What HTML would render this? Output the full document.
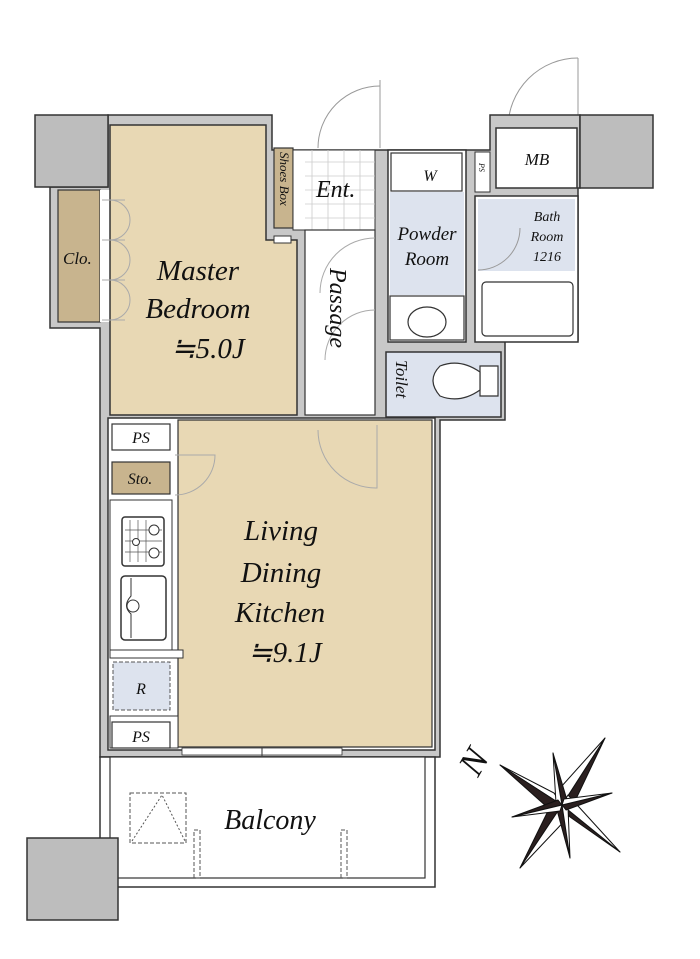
<!DOCTYPE html>
<html><head><meta charset="utf-8"><style>
html,body{margin:0;padding:0;background:#fff;}
svg{display:block;}
text{font-family:"Liberation Serif",serif;font-style:italic;fill:#111;}
</style></head><body>
<svg width="700" height="959" viewBox="0 0 700 959" xmlns="http://www.w3.org/2000/svg">
<g fill="none" stroke="#999" stroke-width="1">
<path d="M318 148 A62 62 0 0 1 380 86"/><line x1="380" y1="80" x2="380" y2="148"/>
<path d="M508 128 A70 70 0 0 1 578 58"/><line x1="578" y1="58" x2="578" y2="128"/>
</g>
<path d="M108 115 L272 115 L272 150 L490 150 L490 115 L580 115 L580 188 L578 188 L578 340 L505 340 L505 420 L440 420 L440 757 L100 757 L100 328 L50 328 L50 187 L108 187 Z" fill="#c8c8c8" stroke="#333" stroke-width="1.5"/>
<rect x="35" y="115" width="73" height="72" fill="#bdbdbd" stroke="#333" stroke-width="1.5"/>
<rect x="580" y="115" width="73" height="73" fill="#bdbdbd" stroke="#333" stroke-width="1.5"/>
<rect x="58" y="190" width="42" height="132" fill="#c8b48e" stroke="#333" stroke-width="1.2"/>
<rect x="100" y="190" width="10" height="132" fill="#fff"/>
<path d="M110 125 L266 125 L266 240 L297 240 L297 415 L110 415 Z" fill="#e8d8b4" stroke="#333" stroke-width="1.5"/>
<g fill="none" stroke="#aaa" stroke-width="1">
<path d="M110 200 A20 20 0 0 1 110 240"/><path d="M110 240 A20 20 0 0 1 110 280"/><path d="M110 280 A20 20 0 0 1 110 320"/>
<line x1="102" y1="200" x2="125" y2="200"/><line x1="102" y1="240" x2="125" y2="240"/><line x1="102" y1="280" x2="125" y2="280"/><line x1="102" y1="320" x2="125" y2="320"/>
</g>
<rect x="274" y="148" width="19" height="80" fill="#c8b48e" stroke="#333" stroke-width="1.2"/>
<rect x="274" y="236" width="17" height="7" fill="#fff" stroke="#333" stroke-width="1"/>
<rect x="293" y="150" width="82" height="80" fill="#fff" stroke="#333" stroke-width="1"/>
<g stroke="#ccc" stroke-width="0.8">
<line x1="305" y1="162" x2="375" y2="162"/><line x1="305" y1="176" x2="375" y2="176"/><line x1="305" y1="190" x2="375" y2="190"/><line x1="305" y1="204" x2="375" y2="204"/><line x1="305" y1="218" x2="375" y2="218"/>
<line x1="312" y1="150" x2="312" y2="230"/><line x1="328" y1="150" x2="328" y2="230"/><line x1="344" y1="150" x2="344" y2="230"/><line x1="360" y1="150" x2="360" y2="230"/>
</g>
<rect x="305" y="230" width="70" height="185" fill="#fff" stroke="#333" stroke-width="1.2"/>
<g fill="none" stroke="#aaa" stroke-width="1">
<path d="M375 238 A55 55 0 0 0 320 293"/><path d="M375 310 A50 50 0 0 0 325 360"/>
</g>
<rect x="388" y="150" width="78" height="192" fill="#fff" stroke="#333" stroke-width="1.5"/>
<rect x="391" y="153" width="71" height="38" fill="#fff" stroke="#333" stroke-width="1.2"/>
<rect x="390" y="192" width="74" height="103" fill="#dde3ee"/>
<rect x="390" y="296" width="74" height="44" fill="#fff" stroke="#333" stroke-width="1.2"/>
<ellipse cx="427" cy="322" rx="19" ry="15" fill="#fff" stroke="#333" stroke-width="1.2"/>
<rect x="475" y="152" width="15" height="40" fill="#fff" stroke="#333" stroke-width="1"/>
<rect x="496" y="128" width="81" height="60" fill="#fff" stroke="#333" stroke-width="1.5"/>
<rect x="475" y="196" width="103" height="146" fill="#fff" stroke="#333" stroke-width="1.5"/>
<rect x="478" y="199" width="97" height="72" fill="#dde3ee"/>
<path d="M478 270 A42 42 0 0 0 520 228" fill="none" stroke="#999" stroke-width="1"/>
<rect x="482" y="282" width="91" height="54" rx="4" fill="#fff" stroke="#333" stroke-width="1.2"/>
<rect x="386" y="352" width="115" height="65" fill="#dde3ee" stroke="#333" stroke-width="1.5"/>
<path d="M480 366 L498 366 L498 396 L480 396 Z" fill="#fff" stroke="#333" stroke-width="1.2"/>
<path d="M480 372 Q460 358 440 366 Q426 380 440 396 Q460 404 480 390 Z" fill="#fff" stroke="#333" stroke-width="1.2"/>
<rect x="108" y="418" width="327" height="332" fill="#fff" stroke="#333" stroke-width="1.5"/>
<path d="M178 420 L432 420 L432 747 L178 747 Z" fill="#e8d8b4" stroke="#333" stroke-width="1.2"/>
<g fill="none" stroke="#aaa" stroke-width="1">
<path d="M377 425 L377 488 A58 58 0 0 1 318 430"/>
<path d="M175 455 L215 455 A40 40 0 0 1 175 495"/>
</g>
<rect x="112" y="424" width="58" height="26" fill="#fff" stroke="#333" stroke-width="1.2"/>
<rect x="112" y="462" width="58" height="32" fill="#c8b48e" stroke="#333" stroke-width="1.2"/>
<rect x="110" y="500" width="62" height="150" fill="#fff" stroke="#333" stroke-width="1"/>
<rect x="122" y="517" width="42" height="49" rx="3" fill="#fff" stroke="#333" stroke-width="1.5"/>
<g stroke="#555" stroke-width="0.7">
<line x1="130" y1="520" x2="130" y2="562"/><line x1="138" y1="520" x2="138" y2="562"/><line x1="146" y1="520" x2="146" y2="562"/>
<line x1="125" y1="530" x2="162" y2="530"/><line x1="125" y1="541" x2="162" y2="541"/><line x1="125" y1="552" x2="162" y2="552"/>
</g>
<circle cx="154" cy="530" r="5" fill="#fff" stroke="#333"/><circle cx="154" cy="553" r="5" fill="#fff" stroke="#333"/><circle cx="136" cy="542" r="3.5" fill="#fff" stroke="#333"/>
<rect x="121" y="576" width="45" height="64" rx="4" fill="#fff" stroke="#333" stroke-width="1.5"/>
<path d="M131 578 L131 596 Q122 606 131 614 L131 638" fill="none" stroke="#333"/>
<circle cx="133" cy="606" r="6" fill="#fff" stroke="#333"/>
<rect x="110" y="650" width="73" height="8" fill="#fff" stroke="#333" stroke-width="1"/>
<rect x="113" y="662" width="57" height="48" fill="#dde3ee" stroke="#555" stroke-width="1" stroke-dasharray="4,2"/>
<rect x="110" y="716" width="68" height="32" fill="#fff" stroke="#333" stroke-width="1"/>
<rect x="112" y="722" width="58" height="26" fill="#fff" stroke="#333" stroke-width="1.2"/>
<rect x="182" y="748" width="160" height="7" fill="#fff" stroke="#333" stroke-width="0.8"/>
<line x1="262" y1="748" x2="262" y2="756" stroke="#333"/>
<rect x="100" y="757" width="335" height="130" fill="#fff" stroke="#333" stroke-width="1.5"/>
<rect x="110" y="757" width="315" height="121" fill="#fff" stroke="#333" stroke-width="1.2"/>
<rect x="27" y="838" width="91" height="82" fill="#bdbdbd" stroke="#333" stroke-width="1.5"/>
<g fill="none" stroke="#555" stroke-width="1" stroke-dasharray="4,2">
<rect x="130" y="793" width="56" height="50"/>
<rect x="194" y="830" width="6" height="48"/><rect x="341" y="830" width="6" height="48"/>
</g>
<path d="M132 841 L162 795 L185 841" fill="none" stroke="#555" stroke-width="1" stroke-dasharray="2,2"/>
<g transform="translate(562 805)" stroke="#111" stroke-width="1" stroke-linejoin="round">
<polygon points="0,0 43,-67 14,-6" fill="#2a1f1f"/><polygon points="0,0 43,-67 -10,-8" fill="#fff"/>
<polygon points="0,0 -62,-40 -8,-12" fill="#fff"/><polygon points="0,0 -62,-40 -6,10" fill="#2a1f1f"/>
<polygon points="0,0 -42,63 -14,6" fill="#2a1f1f"/><polygon points="0,0 -42,63 10,8" fill="#fff"/>
<polygon points="0,0 58,47 8,12" fill="#2a1f1f"/><polygon points="0,0 58,47 6,-10" fill="#fff"/>
<polygon points="0,0 -9,-52 5,-5" fill="#2a1f1f"/><polygon points="0,0 -9,-52 -6,-2" fill="#fff"/>
<polygon points="0,0 8,53 -5,5" fill="#2a1f1f"/><polygon points="0,0 8,53 6,2" fill="#fff"/>
<polygon points="0,0 -50,12 -4,-5" fill="#2a1f1f"/><polygon points="0,0 -50,12 -2,6" fill="#fff"/>
<polygon points="0,0 50,-12 4,5" fill="#2a1f1f"/><polygon points="0,0 50,-12 2,-6" fill="#fff"/>
</g>
<text x="0" y="0" font-size="36" transform="translate(478 778) rotate(-60)">N</text>
<text x="198" y="280" font-size="29" text-anchor="middle">Master</text>
<text x="198" y="318" font-size="29" text-anchor="middle">Bedroom</text>
<text x="208" y="358" font-size="29" text-anchor="middle">≒5.0J</text>
<text x="63" y="264" font-size="17">Clo.</text>
<text font-size="13" transform="translate(280 152) rotate(90)">Shoes Box</text>
<text x="316" y="197" font-size="24">Ent.</text>
<text font-size="24" transform="translate(330 268) rotate(90)">Passage</text>
<text x="430" y="181" font-size="16" text-anchor="middle">W</text>
<text x="427" y="240" font-size="19" text-anchor="middle">Powder</text>
<text x="427" y="265" font-size="19" text-anchor="middle">Room</text>
<text font-size="8" transform="translate(479 163) rotate(90)">PS</text>
<text x="537" y="165" font-size="17" text-anchor="middle">MB</text>
<text x="547" y="221" font-size="14" text-anchor="middle">Bath</text>
<text x="547" y="241" font-size="14" text-anchor="middle">Room</text>
<text x="547" y="261" font-size="14" text-anchor="middle">1216</text>
<text font-size="17" transform="translate(396 360) rotate(90)">Toilet</text>
<text x="141" y="443" font-size="16" text-anchor="middle">PS</text>
<text x="140" y="484" font-size="16" text-anchor="middle">Sto.</text>
<text x="141" y="694" font-size="16" text-anchor="middle">R</text>
<text x="141" y="742" font-size="16" text-anchor="middle">PS</text>
<text x="281" y="540" font-size="29" text-anchor="middle">Living</text>
<text x="281" y="582" font-size="29" text-anchor="middle">Dining</text>
<text x="280" y="622" font-size="29" text-anchor="middle">Kitchen</text>
<text x="285" y="662" font-size="29" text-anchor="middle">≒9.1J</text>
<text x="270" y="829" font-size="28" text-anchor="middle">Balcony</text>
</svg>
</body></html>
